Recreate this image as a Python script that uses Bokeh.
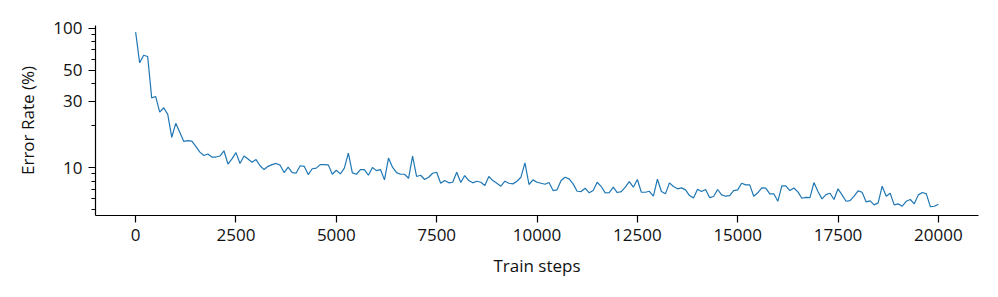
from bokeh.plotting import figure
from bokeh.models import Range1d, FixedTicker, NumeralTickFormatter
from bokeh.embed import file_html
from bokeh.resources import INLINE

steps = list(range(0, 20001, 100))
error_rate = [
    94.1, 56.6, 64.2, 62.9, 31.7, 32.4, 25.0, 26.9, 24.1, 16.5,
    20.8, 17.9, 15.4, 15.6, 15.5, 14.2, 12.9, 12.2, 12.5, 11.9,
    11.9, 12.1, 13.2, 10.6, 11.55, 12.8, 10.7, 12.1, 11.5, 10.9,
    11.4, 10.3, 9.67, 10.2, 10.5, 10.7, 10.4, 9.2, 10.05, 9.2,
    9.13, 10.3, 10.2, 8.9, 9.8, 9.9, 10.5, 10.5, 10.45, 8.95,
    9.56, 9.0, 9.9, 12.7, 9.16, 8.95, 9.67, 9.67, 8.8, 10.0,
    9.5, 9.67, 8.15, 11.7, 10.05, 9.2, 8.95, 8.95, 8.37, 12.1,
    8.62, 8.8, 8.2, 8.52, 9.1, 9.25, 7.71, 8.06, 7.76, 7.84,
    9.25, 7.8, 8.76, 8.06, 7.76, 7.97, 7.84, 7.42, 8.62, 8.06,
    7.71, 7.34, 7.97, 7.71, 7.63, 7.97, 8.52, 10.8, 7.55, 8.15,
    7.84, 7.71, 7.58, 7.8, 6.83, 6.91, 8.06, 8.52, 8.29, 7.63,
    6.75, 6.72, 7.1, 6.58, 6.83, 7.84, 7.3, 6.58, 6.61, 7.22,
    6.61, 6.72, 7.22, 7.93, 7.22, 8.2, 6.64, 6.64, 6.75, 6.22,
    8.24, 6.72, 6.47, 7.76, 7.3, 7.03, 7.14, 6.91, 6.29, 6.05,
    6.98, 6.72, 6.95, 6.08, 6.19, 6.95, 6.36, 6.22, 6.29, 6.83,
    6.91, 7.71, 7.51, 7.51, 6.22, 6.58, 7.14, 7.1, 6.47, 6.47,
    5.72, 7.38, 7.38, 6.83, 7.12, 6.69, 6.01, 6.11, 6.08, 7.8,
    6.72, 5.95, 6.39, 6.53, 5.89, 7.03, 6.36, 5.72, 5.79, 6.22,
    6.8, 6.64, 5.67, 5.76, 5.39, 5.57, 7.34, 6.22, 6.53, 5.39,
    5.48, 5.27, 5.72, 5.89, 5.48, 6.36, 6.61, 6.47, 5.24, 5.27,
    5.45,
]
x_ticks = [0, 2500, 5000, 7500, 10000, 12500, 15000, 17500, 20000]
y_major_ticks = [10, 30, 50, 100]
y_minor_ticks = [5, 6, 7, 8, 9, 20, 40, 60, 70, 80, 90]

FONT = "Open Sans"
TXT = "#111111"

p = figure(width=998, height=297, output_backend="svg", toolbar_location=None,
           y_axis_type="log",
           x_range=Range1d(-1000, 21000), y_range=Range1d(4.52, 105),
           min_border_left=95, min_border_right=20,
           min_border_top=25, min_border_bottom=82)

p.line(steps, error_rate, line_color="#1f77b4", line_width=1.2)

p.outline_line_color = None
p.xgrid.visible = False
p.ygrid.visible = False
p.background_fill_color = "white"
p.border_fill_color = "white"

xa = p.xaxis[0]
xa.ticker = FixedTicker(ticks=x_ticks)
xa.formatter = NumeralTickFormatter(format="0")
xa.axis_label = "Train steps"

ya = p.yaxis[0]
ya.ticker = FixedTicker(ticks=y_major_ticks, minor_ticks=y_minor_ticks)
ya.formatter = NumeralTickFormatter(format="0")
ya.axis_label = "Error Rate (%)"

for ax in (xa, ya):
    ax.axis_line_color = "black"
    ax.axis_line_width = 1.2
    ax.major_tick_line_color = "black"
    ax.major_tick_line_width = 1.2
    ax.major_tick_in = 0
    ax.major_tick_out = 7
    ax.minor_tick_in = 0
    ax.minor_tick_out = 4
    ax.minor_tick_line_color = "black"
    ax.minor_tick_line_width = 1.0
    ax.major_label_text_font = FONT
    ax.major_label_text_font_size = "17px"
    ax.major_label_text_color = TXT
    ax.axis_label_text_font = FONT
    ax.axis_label_text_font_size = "17px"
    ax.axis_label_text_font_style = "normal"
    ax.axis_label_text_color = TXT
    ax.major_label_standoff = 6

xa.minor_tick_line_color = None
xa.axis_label_standoff = 10
ya.axis_label_standoff = 11

open("out.html", "w").write(file_html(p, INLINE))
